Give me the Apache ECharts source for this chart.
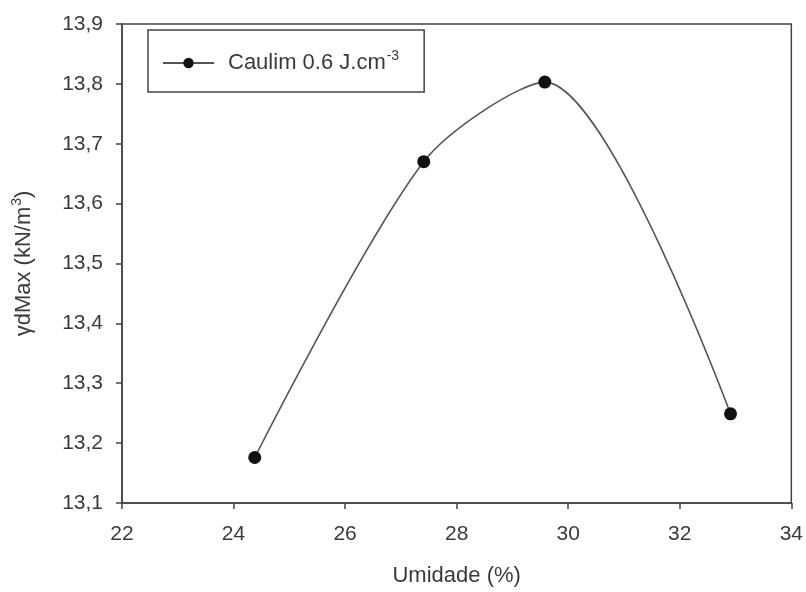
<!DOCTYPE html>
<html>
<head>
<meta charset="utf-8">
<script src="https://cdn.jsdelivr.net/npm/echarts@6/dist/echarts.min.js"></script>
<style>
  html, body { margin: 0; padding: 0; background: #fff; }
  #main { width: 806px; height: 592px; }
</style>
</head>
<body>
<div id="main"></div>
<script>
// umidade (%) e peso especifico seco maximo
var umidade = [24.38, 27.41, 29.58, 32.91];
var gamaMax = [13.176, 13.670, 13.803, 13.249];
var serieNome = 'Caulim 0.6 J.cm-3';

var pontos = [];
for (var i = 0; i < umidade.length; i++) {
    pontos.push([umidade[i], gamaMax[i]]);
}

var corTexto = '#3a3a3a';
var corEixo = '#444';
var supEstilo = { fontSize: 14, verticalAlign: 'top', padding: [0, 0, 14, 1], color: corTexto };

var myChart = echarts.init(document.getElementById('main'));
var option = {
    backgroundColor: '#fff',
    animation: false,
    textStyle: { fontFamily: 'Liberation Sans, Arial, sans-serif' },
    grid: {
        left: 122, right: 14, top: 24, bottom: 87,
        show: true, borderColor: corEixo, borderWidth: 1.5, backgroundColor: 'transparent'
    },
    legend: {
        left: 148, top: 30,
        padding: [19, 25, 18, 14],
        borderColor: corEixo, borderWidth: 1.5,
        itemWidth: 51, itemHeight: 13,
        data: [serieNome],
        formatter: function () {
            return 'Caulim 0.6 J.cm{sup|-3}';
        },
        textStyle: {
            color: corTexto, fontSize: 22,
            padding: [0, 0, 0, 9],
            rich: { sup: supEstilo }
        }
    },
    xAxis: {
        type: 'value',
        min: 22, max: 34, interval: 2,
        name: 'Umidade (%)',
        nameLocation: 'middle', nameGap: 62,
        nameTextStyle: { color: corTexto, fontSize: 22 },
        axisLine: { onZero: false, lineStyle: { color: corEixo, width: 1.5 } },
        axisTick: { show: true, length: 6, lineStyle: { color: corEixo, width: 1.5 } },
        axisLabel: { color: corTexto, fontSize: 21, margin: 21 },
        splitLine: { show: false }
    },
    yAxis: {
        type: 'value',
        min: 13.1, max: 13.9, interval: 0.1,
        name: '\u03B3dMax (kN/m{sup|3})',
        nameLocation: 'middle', nameGap: 84, nameRotate: 90,
        nameTextStyle: {
            color: corTexto, fontSize: 22,
            rich: { sup: supEstilo }
        },
        axisLine: { onZero: false, lineStyle: { color: corEixo, width: 1.5 } },
        axisTick: { show: true, length: 6, lineStyle: { color: corEixo, width: 1.5 } },
        axisLabel: {
            color: corTexto, fontSize: 21, margin: 19,
            formatter: function (v) { return v.toFixed(1).replace('.', ','); }
        },
        splitLine: { show: false }
    },
    series: [{
        name: serieNome,
        type: 'line',
        data: pontos,
        smooth: 0.28,
        symbol: 'circle',
        symbolSize: 13,
        itemStyle: { color: '#111' },
        lineStyle: { color: '#555', width: 1.6 }
    }]
};
myChart.setOption(option);
</script>
</body>
</html>
